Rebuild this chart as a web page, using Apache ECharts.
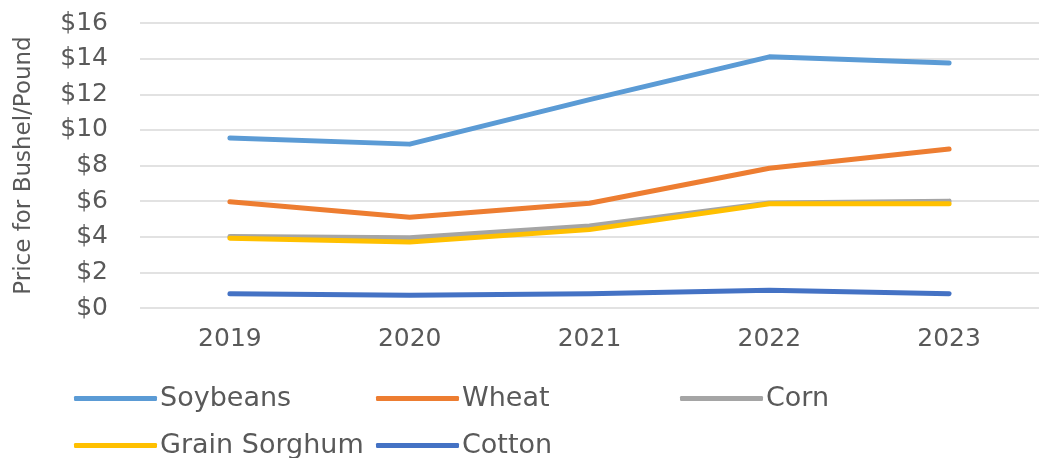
<!DOCTYPE html>
<html>
<head>
<meta charset="utf-8">
<script src="https://cdn.jsdelivr.net/npm/echarts@6/dist/echarts.min.js"></script>
<style>
  html, body { margin: 0; padding: 0; background: #fff; }
  #chart { width: 1039px; height: 458px; }
</style>
</head>
<body>
<div id="chart"></div>
<script>
const years = ['2019', '2020', '2021', '2022', '2023'];
const soybeans = [9.55, 9.2, 11.7, 14.1, 13.75];
const wheat = [5.97, 5.1, 5.88, 7.85, 8.93];
const corn = [4.02, 3.95, 4.6, 5.9, 6.0];
const grainSorghum = [3.92, 3.7, 4.4, 5.85, 5.85];
const cotton = [0.8, 0.72, 0.8, 1.0, 0.8];
const yTicks = [0, 2, 4, 6, 8, 10, 12, 14, 16];

const FONT = '"DejaVu Sans", sans-serif';
const TXT = '#595959';

const seriesDefs = [
  {name: 'Soybeans', data: soybeans, color: '#5B9BD5'},
  {name: 'Wheat', data: wheat, color: '#ED7D31'},
  {name: 'Corn', data: corn, color: '#A5A5A5'},
  {name: 'Grain Sorghum', data: grainSorghum, color: '#FFC000'},
  {name: 'Cotton', data: cotton, color: '#4472C4'}
];

// legend slots like Excel: two rows, fixed columns
const legendPos = [
  {left: 69, top: 380},
  {left: 371, top: 380},
  {left: 675, top: 380},
  {left: 69, top: 427},
  {left: 371, top: 427}
];

let myChart = echarts.init(document.getElementById('chart'));
myChart.setOption({
  animation: false,
  textStyle: {fontFamily: FONT},
  // plot area runs a little past the right edge of the picture
  grid: {left: 140, width: 905, top: 23, bottom: 150},
  legend: seriesDefs.map((s, i) => ({
    data: [s.name],
    left: legendPos[i].left,
    top: legendPos[i].top,
    icon: 'roundRect',
    itemWidth: 83,
    itemHeight: 5,
    itemGap: 0,
    textStyle: {fontSize: 27, color: TXT, fontFamily: FONT, padding: [0, 0, 0, -2]}
  })),
  xAxis: {
    type: 'category',
    data: years,
    boundaryGap: true,
    axisLine: {show: false},
    axisTick: {show: false},
    axisLabel: {fontSize: 25, color: TXT, margin: 19}
  },
  yAxis: {
    type: 'value',
    min: yTicks[0],
    max: yTicks[yTicks.length - 1],
    interval: 2,
    name: 'Price for Bushel/Pound',
    nameLocation: 'middle',
    nameGap: 104,
    nameTextStyle: {fontSize: 23, color: TXT},
    axisLine: {show: false},
    axisTick: {show: false},
    axisLabel: {fontSize: 25, color: TXT, margin: 32, formatter: v => '$' + v},
    splitLine: {lineStyle: {color: '#D9D9D9', width: 1.5}}
  },
  series: seriesDefs.map(s => ({
    name: s.name,
    type: 'line',
    data: s.data,
    showSymbol: false,
    symbol: 'none',
    itemStyle: {color: s.color},
    lineStyle: {color: s.color, width: 5, cap: 'round', join: 'round'}
  }))
});

window.addEventListener('resize', function() {
  myChart.resize();
});
</script>
</body>
</html>
